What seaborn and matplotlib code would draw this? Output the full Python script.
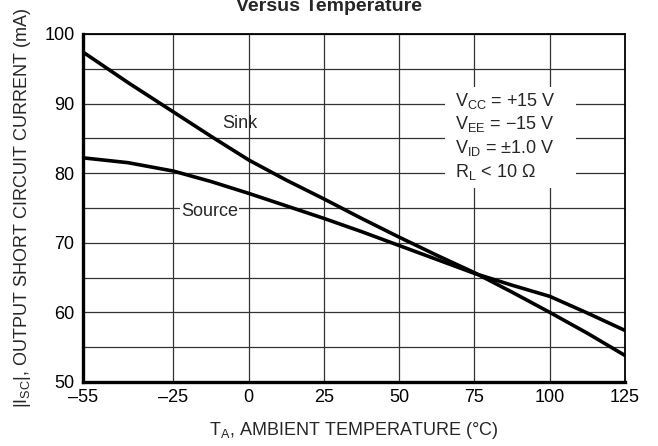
import numpy as np
import pandas as pd
import seaborn as sns
import matplotlib.pyplot as plt
from matplotlib.patches import Rectangle

# Output short circuit current vs ambient temperature
temps = [-55, -40, -25, -12.5, 0, 12.5, 25, 37.5, 50, 62.5, 75, 87.5, 100, 112.5, 125]
sink = [97.4, 93.0, 88.8, 85.3, 81.9, 79.0, 76.3, 73.5, 70.8, 68.2, 65.7, 62.9, 60.0, 57.0, 53.8]
source = [82.2, 81.5, 80.3, 78.8, 77.1, 75.3, 73.5, 71.6, 69.6, 67.6, 65.6, 63.9, 62.3, 59.9, 57.4]

xticks = [-55, -25, 0, 25, 50, 75, 100, 125]
xtick_labels = ['\u201355', '\u201325', '0', '25', '50', '75', '100', '125']
yticks = [50, 60, 70, 80, 90, 100]
conditions = [r'V$_{\mathrm{CC}}$ = +15 V',
              r'V$_{\mathrm{EE}}$ = $-$15 V',
              r'V$_{\mathrm{ID}}$ = $\pm$1.0 V',
              r'R$_{\mathrm{L}}$ < 10 $\Omega$']

df = pd.concat([
    pd.DataFrame({'temp': temps, 'current': sink, 'curve': 'Sink'}),
    pd.DataFrame({'temp': temps, 'current': source, 'curve': 'Source'}),
])

sns.set_style('white')
plt.rcParams['font.family'] = ['Liberation Sans', 'DejaVu Sans']
plt.rcParams['mathtext.fontset'] = 'custom'
plt.rcParams['mathtext.rm'] = 'Liberation Sans'
plt.rcParams['mathtext.it'] = 'Liberation Sans'

fig = plt.figure(figsize=(6.58, 4.46), dpi=100)
ax = fig.add_axes([0.126, 0.1435, 0.824, 0.7805])

sns.lineplot(data=df, x='temp', y='current', hue='curve', palette=['black', 'black'],
             linewidth=2.6, legend=False, ax=ax, zorder=3)

ax.set_xlim(-55, 125)
ax.set_ylim(50, 100)
ax.set_xticks(xticks)
ax.set_xticklabels(xtick_labels)
ax.set_yticks(yticks)
ax.set_yticks([55, 65, 75, 85, 95], minor=True)
ax.tick_params(axis='both', which='both', length=0, labelsize=13, colors='black')
ax.tick_params(axis='y', pad=6)
ax.tick_params(axis='x', pad=5)
ax.grid(True, which='both', color='#333333', linewidth=0.9)
ax.set_axisbelow(True)

for side in ['left', 'bottom']:
    ax.spines[side].set_linewidth(2.4)
for side in ['top', 'right']:
    ax.spines[side].set_linewidth(1.3)
for s in ax.spines.values():
    s.set_color('black')

ax.set_xlabel(r'T$_{\mathrm{A}}$, AMBIENT TEMPERATURE ($\degree$C)', fontsize=13, labelpad=10)
ax.set_ylabel(r'|I$_{\mathrm{SC}}$|, OUTPUT SHORT CIRCUIT CURRENT (mA)', fontsize=13, labelpad=8)

ax.text(-2.8, 87.2, 'Sink', fontsize=13, ha='center', va='center')
ax.text(-13, 74.5, 'Source', fontsize=13, ha='center', va='center',
        bbox=dict(fc='white', ec='none', pad=0.5))

# white background behind the test conditions
ax.add_patch(Rectangle((65.3, 77.8), 43.5, 14.6, fc='white', ec='none', zorder=2))
for i, line in enumerate(conditions):
    ax.text(68.5, 90.4 - i * 3.4, line, fontsize=13, ha='left', va='center', zorder=4)

# title is cut at the top edge, as in the source
fig.text(0.5, 0.975, 'Versus Temperature', fontsize=14, fontweight='bold',
         ha='center', va='baseline')

fig.savefig('out.png', dpi=100)
